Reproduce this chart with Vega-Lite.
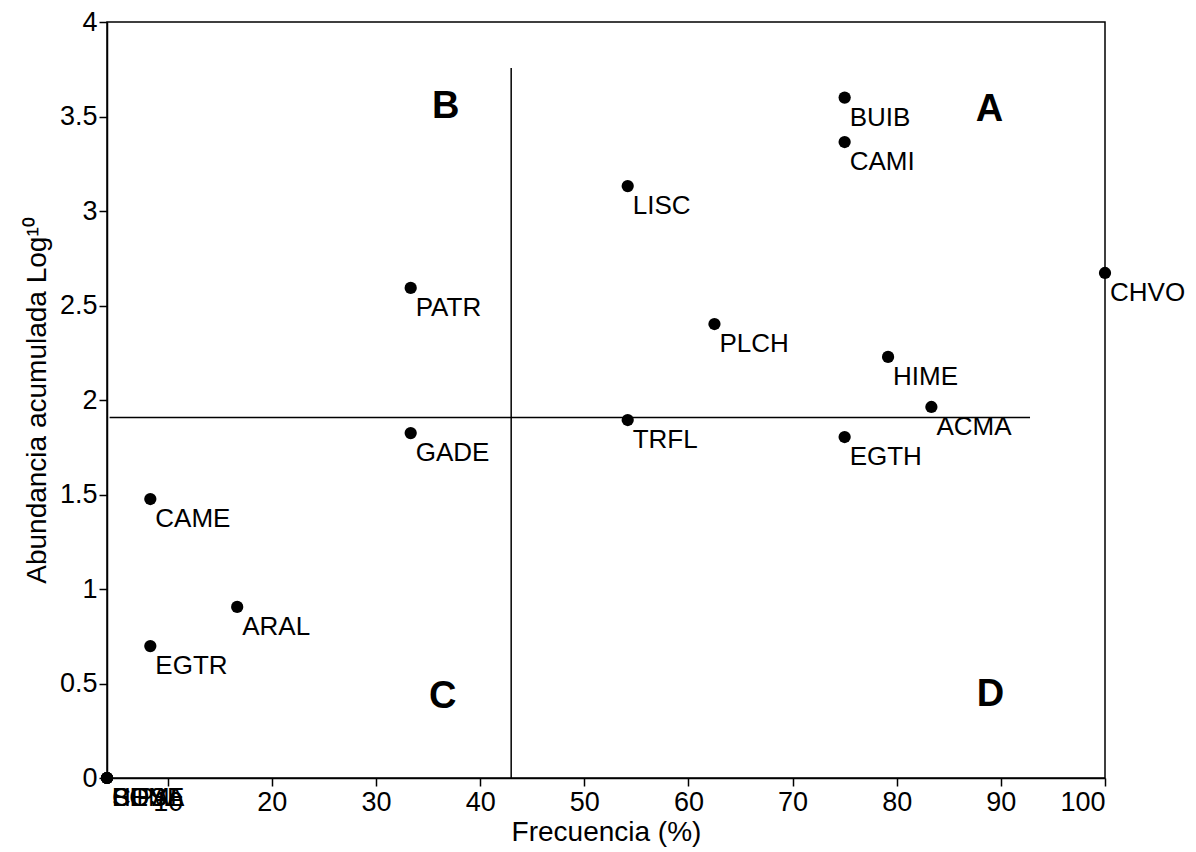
{
  "$schema": "https://vega.github.io/schema/vega-lite/v6.json",
  "width": 998,
  "height": 756,
  "autosize": "none",
  "padding": {"left": 107, "top": 22, "right": 91, "bottom": 74},
  "background": "white",
  "config": {
    "font": "Liberation Sans",
    "view": {"stroke": "black", "strokeWidth": 1.5},
    "axis": {"grid": false, "domainColor": "black", "domainWidth": 1.5, "tickColor": "black", "tickWidth": 1.5, "tickSize": 8, "labelColor": "black", "titleColor": "black", "labelFont": "Liberation Sans", "titleFont": "Liberation Sans", "labelFontSize": 27, "titleFontSize": 28, "titleFontWeight": "normal"}
  },
  "datasets": {
    "species": [
      {"sp": "BUIB", "freq": 75.0, "ab": 3.6},
      {"sp": "CAMI", "freq": 75.0, "ab": 3.365},
      {"sp": "LISC", "freq": 54.17, "ab": 3.132},
      {"sp": "PATR", "freq": 33.33, "ab": 2.593},
      {"sp": "CHVO", "freq": 100.0, "ab": 2.672},
      {"sp": "PLCH", "freq": 62.5, "ab": 2.402},
      {"sp": "HIME", "freq": 79.17, "ab": 2.228},
      {"sp": "ACMA", "freq": 83.33, "ab": 1.963},
      {"sp": "TRFL", "freq": 54.17, "ab": 1.894},
      {"sp": "EGTH", "freq": 75.0, "ab": 1.804},
      {"sp": "GADE", "freq": 33.33, "ab": 1.825},
      {"sp": "CAME", "freq": 8.33, "ab": 1.476},
      {"sp": "ARAL", "freq": 16.67, "ab": 0.905},
      {"sp": "EGTR", "freq": 8.33, "ab": 0.698},
      {"sp": "CUSA", "freq": 4.17, "ab": 0},
      {"sp": "BOSE", "freq": 4.17, "ab": 0},
      {"sp": "SIPA", "freq": 4.17, "ab": 0},
      {"sp": "HEMI", "freq": 4.17, "ab": 0}
    ],
    "quads": [
      {"q": "A", "freq": 88.9, "ab": 3.535},
      {"q": "B", "freq": 36.7, "ab": 3.55},
      {"q": "C", "freq": 36.4, "ab": 0.43},
      {"q": "D", "freq": 89.0, "ab": 0.44}
    ],
    "vline": [{"x": 42.98, "y1": 0, "y2": 3.757}],
    "hline": [{"x1": 4.42, "x2": 92.8, "y": 1.907}]
  },
  "layer": [
    {
      "data": {"name": "vline"},
      "mark": {"type": "rule", "color": "black", "strokeWidth": 1.5},
      "encoding": {
        "x": {"field": "x", "type": "quantitative", "scale": {"domain": [4.17, 100], "nice": false, "zero": false}, "axis": {"values": [10, 20, 30, 40, 50, 60, 70, 80, 90, 100], "format": "~r", "title": "Frecuencia (%)", "labelFontSize": 27, "titleFontSize": 28, "labelPadding": 3, "titlePadding": 3}},
        "y": {"field": "y1", "type": "quantitative", "scale": {"domain": [0, 4], "nice": false}, "axis": {"values": [0, 0.5, 1, 1.5, 2, 2.5, 3, 3.5, 4], "format": "~r", "title": "Abundancia acumulada Log¹⁰", "labelFontSize": 27, "titleFontSize": 28, "labelPadding": 2, "titlePadding": 8}},
        "y2": {"field": "y2"}
      }
    },
    {
      "data": {"name": "hline"},
      "mark": {"type": "rule", "color": "black", "strokeWidth": 1.5},
      "encoding": {
        "x": {"field": "x1", "type": "quantitative"},
        "x2": {"field": "x2"},
        "y": {"field": "y", "type": "quantitative"}
      }
    },
    {
      "data": {"name": "species"},
      "mark": {"type": "point", "filled": true, "color": "black", "size": 150, "opacity": 1, "clip": false},
      "encoding": {
        "x": {"field": "freq", "type": "quantitative"},
        "y": {"field": "ab", "type": "quantitative"}
      }
    },
    {
      "data": {"name": "species"},
      "mark": {"type": "text", "align": "left", "baseline": "middle", "dx": 5, "dy": 20, "fontSize": 26, "color": "black", "font": "Liberation Sans", "clip": false},
      "encoding": {
        "x": {"field": "freq", "type": "quantitative"},
        "y": {"field": "ab", "type": "quantitative"},
        "text": {"field": "sp"}
      }
    },
    {
      "data": {"name": "quads"},
      "mark": {"type": "text", "align": "center", "baseline": "middle", "fontSize": 38, "fontWeight": "bold", "color": "black", "font": "Liberation Sans"},
      "encoding": {
        "x": {"field": "freq", "type": "quantitative"},
        "y": {"field": "ab", "type": "quantitative"},
        "text": {"field": "q"}
      }
    }
  ]
}
